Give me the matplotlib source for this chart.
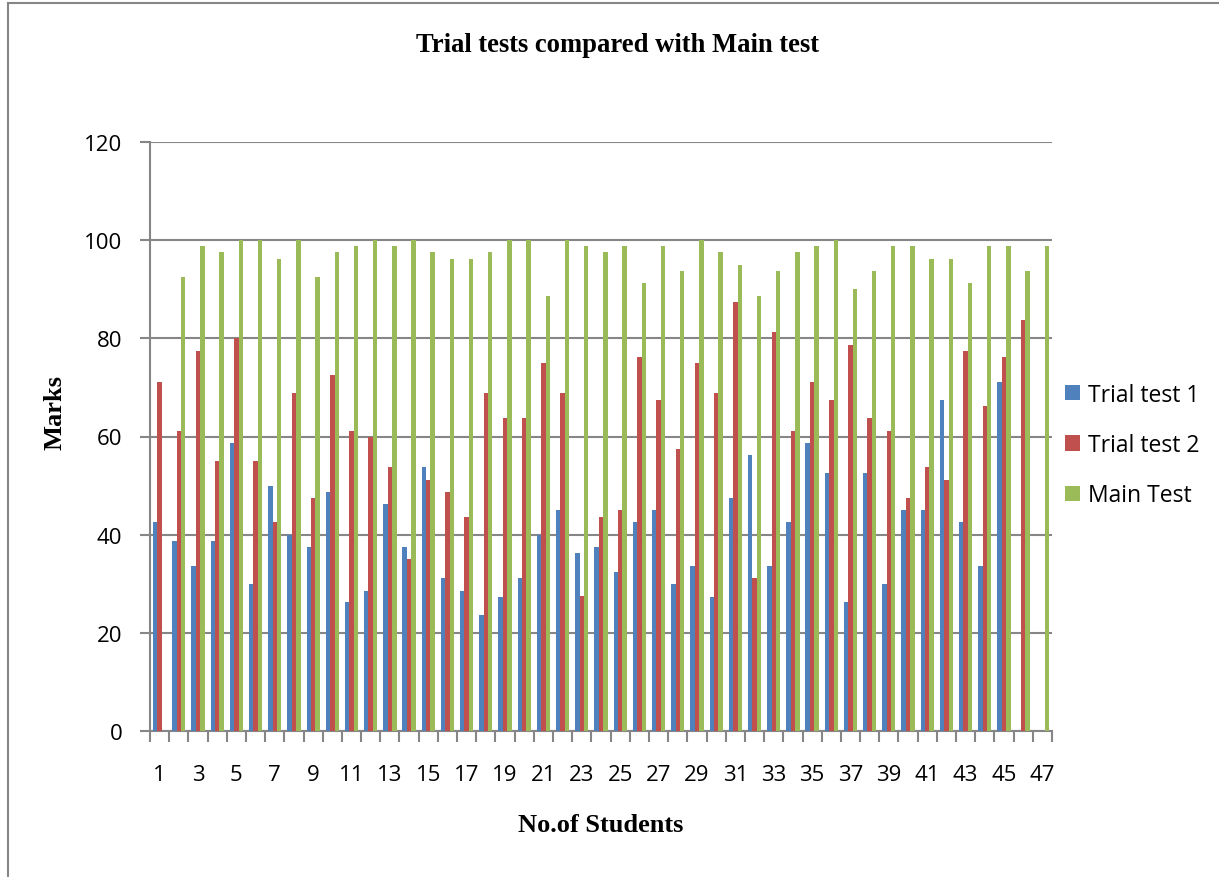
import numpy as np
import matplotlib
matplotlib.use("Agg")
from matplotlib import pyplot as plt
from matplotlib.lines import Line2D

students = list(range(1, 48))

trial1 = [42.5, 38.7, 33.6, 38.7, 58.7, 29.9, 49.9, 40.0, 37.4, 48.7,
          26.2, 28.6, 46.2, 37.4, 53.7, 31.2, 28.6, 23.7, 27.4, 31.2,
          40.0, 45.0, 36.2, 37.4, 32.4, 42.5, 45.0, 29.9, 33.6, 27.4,
          47.5, 56.2, 33.6, 42.5, 58.7, 52.5, 26.2, 52.5, 29.9, 45.0,
          45.0, 67.5, 42.5, 33.6, 71.2, 0, 0]
trial2 = [71.2, 61.2, 77.5, 55.0, 80.0, 55.0, 42.5, 68.8, 47.5, 72.5,
          61.2, 60.0, 53.7, 35.0, 51.2, 48.7, 43.7, 68.8, 63.7, 63.7,
          75.0, 68.8, 27.5, 43.7, 45.0, 76.2, 67.5, 57.5, 75.0, 68.8,
          87.5, 31.2, 81.2, 61.2, 71.2, 67.5, 78.7, 63.7, 61.2, 47.5,
          53.7, 51.2, 77.5, 66.2, 76.2, 83.7, 0]
main_test = [0, 92.5, 98.8, 97.5, 100, 100, 96.2, 100, 92.5, 97.5,
             98.8, 100, 98.8, 100, 97.5, 96.2, 96.2, 97.5, 100, 100,
             88.7, 100, 98.8, 97.5, 98.8, 91.2, 98.8, 93.7, 100, 97.5,
             95.0, 88.7, 93.7, 97.5, 98.8, 100, 90.0, 93.7, 98.8, 98.8,
             96.2, 96.2, 91.2, 98.8, 98.8, 93.7, 98.8]

series_names = ["Trial test 1", "Trial test 2", "Main Test"]
colors = ["#4F81BD", "#C0504D", "#9BBB59"]
grey = "#868686"

plt.rcParams['font.family'] = ['Open Sans', 'DejaVu Sans']

fig = plt.figure(figsize=(12.19, 8.78), dpi=100)
ax = fig.add_axes([150 / 1219, 1 - 732 / 878, 902 / 1219, 589 / 878])

x = np.array(students)
w = 0.23
for i, (vals, c, name) in enumerate(zip([trial1, trial2, main_test], colors, series_names)):
    ax.bar(x + (i - 1) * w, vals, width=w, color=c, label=name, zorder=3)

ax.set_xlim(0.5, 47.5)
ax.set_ylim(0, 120)
ax.set_yticks(range(0, 121, 20))
ax.yaxis.grid(True, color=grey, linewidth=1.5, zorder=0)
ax.set_xticks(x[::2])
ax.set_xticks(np.arange(0.5, 48, 1), minor=True)
ax.tick_params(axis='x', which='major', length=0, labelsize=16, pad=24)
ax.tick_params(axis='x', which='minor', length=8, width=1.5, color=grey)
ax.tick_params(axis='y', length=7, width=1.5, color=grey, labelsize=16, pad=13)

for s in ['top', 'right']:
    ax.spines[s].set_visible(False)
for s in ['left', 'bottom']:
    ax.spines[s].set_color(grey)
    ax.spines[s].set_linewidth(1.5)

serif = ['Liberation Serif', 'DejaVu Serif']
fig.text(618 / 1219, 1 - 45 / 878, "Trial tests compared with Main test",
         ha='center', va='center', fontsize=19.2, fontweight='bold', family=serif)
fig.text(601 / 1219, 1 - 826 / 878, "No.of Students",
         ha='center', va='center', fontsize=19, fontweight='bold', family=serif)
fig.text(55 / 1219, 1 - 413 / 878, "Marks", rotation=90,
         ha='center', va='center', fontsize=19, fontweight='bold', family=serif)

leg = ax.legend(loc='center left', bbox_to_anchor=(1 + 13 / 902, 0.4856), frameon=False,
                fontsize=16.5, handlelength=0.65, handleheight=0.65,
                labelspacing=1.15, handletextpad=0.35, borderaxespad=0, borderpad=0)

# outer chart border
fig.add_artist(Line2D([8 / 1219, 8 / 1219], [0, 1 - 4 / 878], color=grey, linewidth=1.5))
fig.add_artist(Line2D([8 / 1219, 1], [1 - 4 / 878, 1 - 4 / 878], color=grey, linewidth=1.5))

fig.savefig("out.png", dpi=100)
